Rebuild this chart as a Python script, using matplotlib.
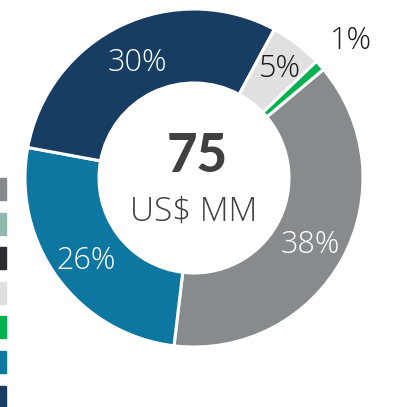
import matplotlib
matplotlib.use("Agg")
import numpy as np
import matplotlib.pyplot as plt
from matplotlib.patches import Rectangle

# Slice values in clockwise order, starting at the upper right
shares = [38, 26, 30, 5, 1]
slice_colors = ["#878b8e", "#0e77a1", "#183d63", "#e0e0e0", "#00b14f"]
label_colors = ["white", "white", "white", "#1a1a1a", "#1a1a1a"]
label_radius = [0.78, 0.79, 0.78, 0.84, 1.25]

# Legend swatches (the legend text sits off the left edge)
legend_colors = ["#878b8e", "#8fb9ae", "#2b2d30", "#e0e0e0",
                 "#00b14f", "#0e77a1", "#183d63"]

total = 75
unit = "US$ MM"

W, H = 403, 407
fig = plt.figure(figsize=(W / 100, H / 100), dpi=100)
ax = fig.add_axes([0, 0, 1, 1])

cx, cy = 194, H - 178
R = 169

wedges, _ = ax.pie(shares, colors=slice_colors, center=(cx, cy), radius=R,
                   startangle=40, counterclock=False, frame=True,
                   wedgeprops=dict(width=74, edgecolor="white", linewidth=2.2))
ax.set_xlim(0, W)
ax.set_ylim(0, H)
ax.set_aspect("equal")
ax.axis("off")

for w, s, c, r in zip(wedges, shares, label_colors, label_radius):
    mid = np.deg2rad((w.theta1 + w.theta2) / 2)
    x = cx + r * R * np.cos(mid)
    y = cy + r * R * np.sin(mid)
    # Open Sans centres on the full line box, so nudge down onto the digits
    ax.text(x, y - 4, f"{s}%", ha="center", va="center", color=c,
            fontsize=22, family="Open Sans", fontweight="light")

ax.text(cx + 3, H - 157, f"{total}", ha="center", va="center",
        fontsize=38, family="Lato", fontweight="black", color="#404040")
ax.text(cx, H - 212, unit, ha="center", va="center",
        fontsize=24, family="Open Sans", fontweight="light", color="#404040")

for i, c in enumerate(legend_colors):
    top = 178 + i * 34.6
    ax.add_patch(Rectangle((-16, H - top - 22), 22, 22, color=c, clip_on=False))

fig.savefig("out.png", dpi=100)
